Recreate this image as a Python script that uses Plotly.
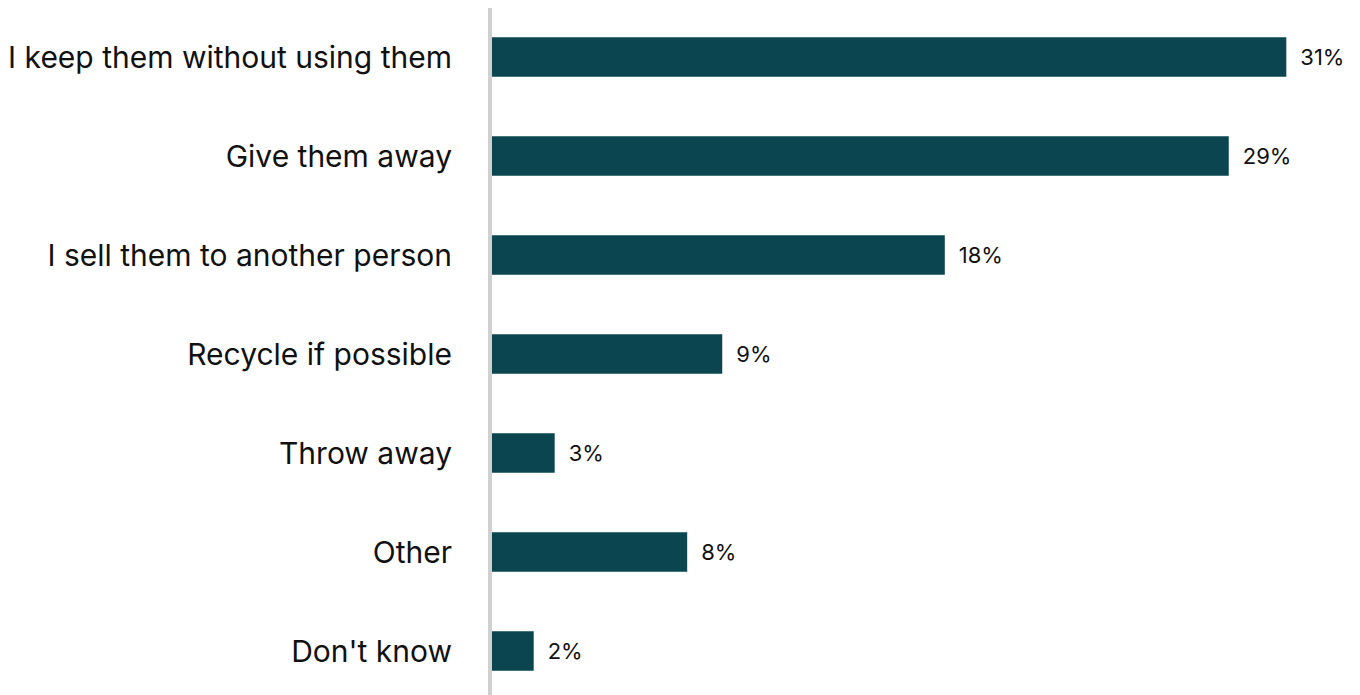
import plotly.graph_objects as go

categories = ["I keep them without using them", "Give them away", "I sell them to another person",
              "Recycle if possible", "Throw away", "Other", "Don't know"]
values = [31.05, 28.8, 17.7, 9.0, 2.45, 7.63, 1.63]
labels = ["31%", "29%", "18%", "9%", "3%", "8%", "2%"]

fig = go.Figure(go.Bar(
    y=categories, x=values, orientation="h",
    marker=dict(color="#0B4650", line=dict(width=0)),
    width=0.40,
    text=["\u2002" + t for t in labels], textposition="outside",
    textfont=dict(family="Inter, sans-serif", size=22, color="#111111"),
    cliponaxis=False,
))

fig.update_layout(
    width=1360, height=695,
    margin=dict(l=480, r=30, t=0, b=0),
    paper_bgcolor="white", plot_bgcolor="white",
    showlegend=False,
    xaxis=dict(range=[0, 33.07], visible=False, showgrid=False, zeroline=False),
    yaxis=dict(range=[6.525, -0.495], autorange=False, showgrid=False, zeroline=False,
               showline=True, linecolor="#d0d0d0", linewidth=4,
               ticks="", ticklabelstandoff=30,
               tickfont=dict(family="Inter, sans-serif", size=30, color="#111111")),
)

fig.write_html("out.html")
